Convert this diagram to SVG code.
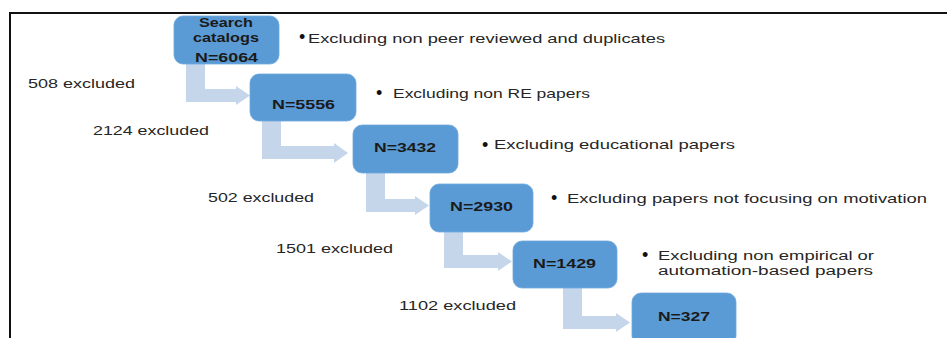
<svg xmlns="http://www.w3.org/2000/svg" width="947" height="338" viewBox="0 0 947 338">
<style>
  .frame{fill:none;stroke:#111;stroke-width:2}
  .box{fill:#5b9bd5;stroke:#6fa8dc;stroke-width:0.8}
  .arr{fill:#c5d6eb}
  .nt{font-family:"Liberation Sans",Arial,sans-serif;font-weight:bold;font-size:12.5px;fill:#1a1a1a;text-anchor:middle}
  .lbl{font-family:"Liberation Sans",Arial,sans-serif;font-size:13px;fill:#262626}
  .lbl2{font-family:"Liberation Sans",Arial,sans-serif;font-size:12.5px;fill:#262626}
  .bul{font-family:"Liberation Sans",sans-serif;font-size:18px;fill:#111}
</style>
<rect width="947" height="338" fill="#fff"/>
<path class="frame" d="M10 338 V13 H947"/>
<g id="connectors">
  <polygon class="arr" points="186,64 205,64 205,89 236,89 236,86 250,95.5 236,105 236,102 186,102"/>
  <polygon class="arr" points="262,120 281,120 281,146 334,146 334,143 348,153 334,163 334,159 262,159"/>
  <polygon class="arr" points="366,173 385,173 385,199 415,199 415,196 429,205.5 415,215 415,212 366,212"/>
  <polygon class="arr" points="444,232 463,232 463,255 498,255 498,252 512,261.5 498,271 498,268 444,268"/>
  <polygon class="arr" points="563,288 582,288 582,316 616,316 616,313 630,322.5 616,332 616,329 563,329"/>
</g>
<g id="n1">
  <rect class="box" x="174" y="16" width="105" height="48" rx="9"/>
  <text class="nt" x="226" y="27" textLength="54" lengthAdjust="spacingAndGlyphs">Search</text>
  <text class="nt" x="226" y="42" textLength="66" lengthAdjust="spacingAndGlyphs">catalogs</text>
  <text class="nt" x="226.5" y="62" textLength="63" lengthAdjust="spacingAndGlyphs">N=6064</text>
</g>
<g id="n2">
  <rect class="box" x="250" y="74" width="106" height="47" rx="9"/>
  <text class="nt" x="303.5" y="109" textLength="63" lengthAdjust="spacingAndGlyphs">N=5556</text>
</g>
<g id="n3">
  <rect class="box" x="353" y="125" width="105" height="48" rx="9"/>
  <text class="nt" x="405" y="152" textLength="62" lengthAdjust="spacingAndGlyphs">N=3432</text>
</g>
<g id="n4">
  <rect class="box" x="430" y="184" width="103" height="48" rx="9"/>
  <text class="nt" x="481.5" y="211" textLength="63" lengthAdjust="spacingAndGlyphs">N=2930</text>
</g>
<g id="n5">
  <rect class="box" x="513" y="241" width="104" height="47" rx="9"/>
  <text class="nt" x="564.5" y="268" textLength="63" lengthAdjust="spacingAndGlyphs">N=1429</text>
</g>
<g id="n6">
  <rect class="box" x="632" y="293" width="104" height="52" rx="9"/>
  <text class="nt" x="684" y="321" textLength="52" lengthAdjust="spacingAndGlyphs">N=327</text>
</g>
<g id="excluded-labels">
  <text class="lbl" x="28" y="88" textLength="107" lengthAdjust="spacingAndGlyphs">508 excluded</text>
  <text class="lbl" x="93" y="135" textLength="116" lengthAdjust="spacingAndGlyphs">2124 excluded</text>
  <text class="lbl" x="208" y="202" textLength="106" lengthAdjust="spacingAndGlyphs">502 excluded</text>
  <text class="lbl" x="276" y="253" textLength="117" lengthAdjust="spacingAndGlyphs">1501 excluded</text>
  <text class="lbl" x="399" y="310" textLength="117" lengthAdjust="spacingAndGlyphs">1102 excluded</text>
</g>
<g id="criteria">
  <text class="bul" x="299" y="43">•</text>
  <text class="lbl" x="308" y="43" textLength="357" lengthAdjust="spacingAndGlyphs">Excluding non peer reviewed and duplicates</text>
  <text class="bul" x="376" y="99">•</text>
  <text class="lbl" x="393" y="98" textLength="197" lengthAdjust="spacingAndGlyphs">Excluding non RE papers</text>
  <text class="bul" x="482" y="151">•</text>
  <text class="lbl" x="494" y="149" textLength="241" lengthAdjust="spacingAndGlyphs">Excluding educational  papers</text>
  <text class="bul" x="551" y="204">•</text>
  <text class="lbl" x="567" y="203" textLength="360" lengthAdjust="spacingAndGlyphs">Excluding papers not focusing on motivation</text>
  <text class="bul" x="642" y="261">•</text>
  <text class="lbl2" x="658" y="260" textLength="216" lengthAdjust="spacingAndGlyphs">Excluding non empirical or</text>
  <text class="lbl2" x="658" y="275" textLength="215" lengthAdjust="spacingAndGlyphs">automation-based  papers</text>
</g>
</svg>
